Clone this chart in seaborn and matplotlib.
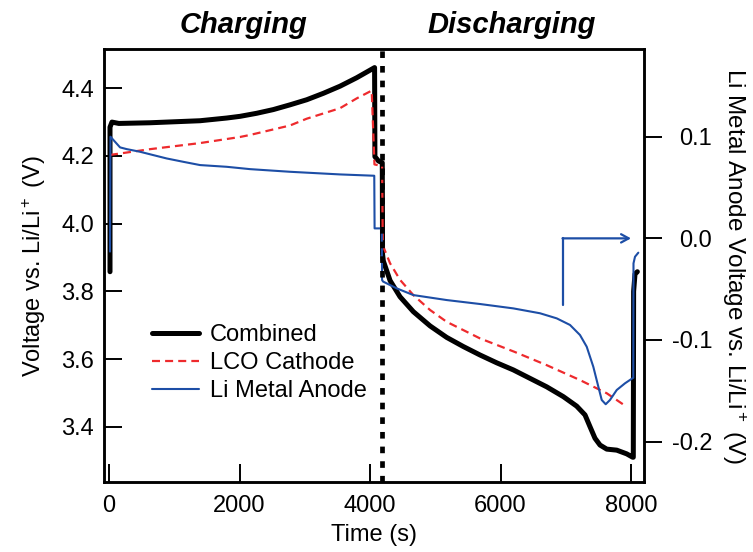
import matplotlib
matplotlib.use("Agg")
import matplotlib.pyplot as plt
import seaborn as sns
import pandas as pd

# ---------------- data ----------------
comb_t = [15, 15, 45, 150, 628, 1395, 1804, 2008, 2263, 2519, 2774, 3030, 3285, 3540, 3796,
          4070, 4075, 4130, 4188, 4192, 4204, 4307, 4460, 4664, 4920, 5175, 5430, 5686,
          5941, 6196, 6452, 6708, 6963, 7167, 7295, 7372, 7448, 7525, 7628, 7781, 7934,
          8026, 8035, 8040, 8061, 8097]
comb_v = [3.858, 4.285, 4.300, 4.296, 4.298, 4.304, 4.312, 4.317, 4.326, 4.337, 4.351, 4.366,
          4.385, 4.406, 4.431, 4.461, 4.198, 4.185, 4.180, 3.910, 3.890, 3.832, 3.784, 3.740,
          3.698, 3.664, 3.637, 3.612, 3.589, 3.568, 3.543, 3.518, 3.489, 3.461, 3.435, 3.400,
          3.366, 3.346, 3.334, 3.331, 3.320, 3.310, 3.310, 3.800, 3.851, 3.858]

lco_t = [15, 628, 1395, 2008, 2161, 2774, 3030, 3540, 3796, 4026, 4068, 4185, 4195, 4204,
         4307, 4460, 4664, 4920, 5175, 5686, 6206, 6708, 7218, 7628, 7934]
lco_v = [4.203, 4.220, 4.238, 4.256, 4.262, 4.290, 4.310, 4.341, 4.370, 4.393, 4.175, 4.170,
         3.950, 3.932, 3.883, 3.834, 3.789, 3.745, 3.710, 3.661, 3.622, 3.582, 3.538, 3.499,
         3.459]

anode_t = [15, 22, 92, 169, 271, 475, 679, 884, 1139, 1395, 1804, 2161, 2774, 3540, 4065,
           4070, 4170, 4180, 4185, 4200, 4409, 4664, 5175, 5686, 6196, 6605, 6861, 7065,
           7218, 7321, 7422, 7499, 7551, 7612, 7678, 7781, 7908, 8035, 8038, 8061, 8112]
anode_v = [-0.013, 0.100, 0.095, 0.0895, 0.0878, 0.0852, 0.0819, 0.0786, 0.0753, 0.0721,
           0.0704, 0.0681, 0.0655, 0.0629, 0.0616, 0.0098, 0.0098, 0.0098, -0.0410, -0.0425,
           -0.0492, -0.0558, -0.0607, -0.0646, -0.0689, -0.0737, -0.0787, -0.0852, -0.0951,
           -0.1066, -0.1263, -0.1459, -0.1590, -0.1632, -0.1590, -0.1492, -0.1426, -0.1371,
           -0.0246, -0.0181, -0.0141]

switch_time = 4180                      # charge -> discharge boundary
arrow_x = [6950, 6950, 8000]            # axis-indicator arrow (right axis)
arrow_y = [-0.066, 0.0, 0.0]

x_ticks = [0, 2000, 4000, 6000, 8000]
left_ticks = [3.4, 3.6, 3.8, 4.0, 4.2, 4.4]
right_ticks = [-0.2, -0.1, 0.0, 0.1]
phase_labels = ["Charging", "Discharging"]
series_labels = ["Combined", "LCO Cathode", "Li Metal Anode"]

# ---------------- style ----------------
sns.set_style("ticks")
plt.rcParams["font.family"] = ["Liberation Sans", "DejaVu Sans"]
plt.rcParams["mathtext.fontset"] = "custom"
plt.rcParams["mathtext.rm"] = "Liberation Sans"
plt.rcParams["mathtext.it"] = "Liberation Sans:italic"
plt.rcParams["axes.unicode_minus"] = False
for key in ("text.color", "axes.labelcolor", "xtick.color", "ytick.color", "axes.edgecolor"):
    plt.rcParams[key] = "black"

BLACK = "#000000"
RED = "#ee2a2d"
BLUE = "#1d4ea6"
FS = 17

fig = plt.figure(figsize=(7.53, 5.52), dpi=100)
ax = fig.add_axes([104 / 753, 1 - 482.3 / 552, 540 / 753, 433 / 552])
ax2 = ax.twinx()

comb = pd.DataFrame({"t": comb_t, "v": comb_v})
lco = pd.DataFrame({"t": lco_t, "v": lco_v})
anode = pd.DataFrame({"t": anode_t, "v": anode_v})

sns.lineplot(data=comb, x="t", y="v", ax=ax, color=BLACK, lw=3.6, estimator=None,
             sort=False, legend=False, zorder=2)
sns.lineplot(data=lco, x="t", y="v", ax=ax, color=RED, lw=1.6, estimator=None,
             sort=False, legend=False, linestyle=(0, (3.6, 2.3)), zorder=3)
sns.lineplot(data=anode, x="t", y="v", ax=ax2, color=BLUE, lw=1.5, estimator=None,
             sort=False, legend=False, zorder=2)

h_comb = ax.lines[0]
h_lco = ax.lines[1]
h_anode = ax2.lines[0]
for h in (h_comb, h_lco, h_anode):
    h.set_solid_joinstyle("round")
    h.set_dash_joinstyle("round")

# boundary line
ax2.axvline(switch_time, color=BLACK, lw=3.4, linestyle=(0, (1.4, 1.7)), zorder=5)

# arrow pointing to right axis
ax2.plot(arrow_x[:2], arrow_y[:2], color=BLUE, lw=1.6)
ax2.annotate("", xy=(arrow_x[2], arrow_y[2]), xytext=(arrow_x[1], arrow_y[1]),
             arrowprops=dict(arrowstyle="->,head_length=0.55,head_width=0.3",
                             color=BLUE, lw=1.6, shrinkA=0, shrinkB=0))

# axes limits and ticks
ax.set_xlim(-77, 8199)
ax.set_ylim(3.236, 4.515)
ax2.set_ylim(-0.240, 0.186)
ax.set_xticks(x_ticks)
ax.set_xticklabels([str(v) for v in x_ticks])
ax.set_yticks(left_ticks)
ax.set_yticklabels([f"{v:.1f}" for v in left_ticks])
ax2.set_yticks(right_ticks)
ax2.set_yticklabels([f"{v:.1f}" for v in right_ticks])

ax.tick_params(axis="x", direction="in", length=13, width=1.4, pad=9, labelsize=FS)
ax.tick_params(axis="y", direction="in", length=13, width=1.4, pad=7, labelsize=FS)
ax2.tick_params(axis="y", direction="out", length=13, width=1.4, pad=36, labelsize=FS)
for lab in ax2.get_yticklabels():
    lab.set_horizontalalignment("right")

for a in (ax, ax2):
    for s in a.spines.values():
        s.set_linewidth(1.8)
        s.set_color("black")

ax.set_xlabel("Time (s)", fontsize=FS, labelpad=5)
ax.set_ylabel("Voltage vs. Li/Li$^+$ (V)", fontsize=FS, labelpad=10)
ax2.set_ylabel("Li Metal Anode Voltage vs. Li/Li$^+$ (V)", fontsize=FS + 0.5,
               rotation=-90, va="bottom", labelpad=6)

# phase titles
fig.text(243 / 753, 1 - 25 / 552, phase_labels[0], ha="center", va="center",
         fontsize=21, fontweight="bold", fontstyle="italic", color="black")
fig.text(512 / 753, 1 - 25 / 552, phase_labels[1], ha="center", va="center",
         fontsize=21, fontweight="bold", fontstyle="italic", color="black")

# legend
ax2.legend([h_comb, h_lco, h_anode], series_labels, loc="center left",
           bbox_to_anchor=(0.089, 0.275), frameon=False, fontsize=FS,
           handlelength=2.0, handletextpad=0.45, labelspacing=0.26,
           borderpad=0, borderaxespad=0)

fig.savefig("out.png", dpi=100)
